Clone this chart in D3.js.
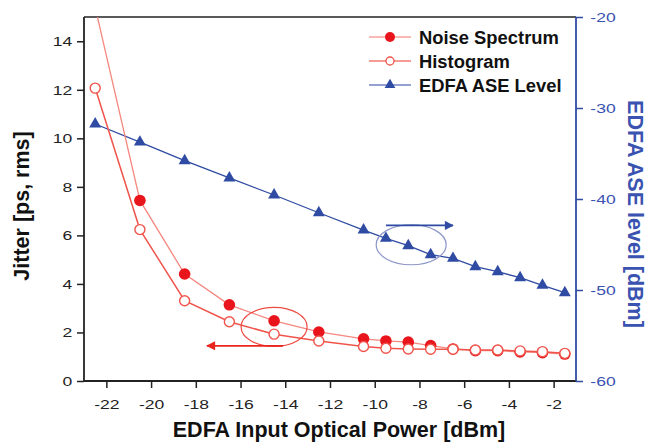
<!DOCTYPE html>
<html><head><meta charset="utf-8">
<script src="https://cdn.jsdelivr.net/npm/d3@7"></script>
<style>
html,body{margin:0;padding:0;background:#fff;}
svg{display:block;font-family:"Liberation Sans",Arial,sans-serif;}
</style></head>
<body><svg id="c" width="657" height="444"></svg>
<script>
// ---- data ----
const inputPower = [-22.5,-20.5,-18.5,-16.5,-14.5,-12.5,-10.5,-9.5,-8.5,-7.5,-6.5,-5.5,-4.5,-3.5,-2.5,-1.5];
const noiseSpectrum = [15.4,7.44,4.41,3.14,2.48,2.02,1.74,1.65,1.60,1.46,1.32,1.25,1.25,1.20,1.17,1.11];
const histogram = [12.07,6.24,3.31,2.44,1.93,1.65,1.42,1.35,1.32,1.31,1.31,1.28,1.28,1.24,1.21,1.14];
const aseLevel = [-31.76,-33.74,-35.79,-37.69,-39.56,-41.51,-43.41,-44.32,-45.13,-46.12,-46.52,-47.44,-47.99,-48.65,-49.48,-50.30];
const xTicks = [-22,-20,-18,-16,-14,-12,-10,-8,-6,-4,-2];
const yLeftTicks = [0,2,4,6,8,10,12,14];
const yRightTicks = [-20,-30,-40,-50,-60];
const legendLabels = ["Noise Spectrum","Histogram","EDFA ASE Level"];

const RED = "#e8161c", RED_LINE = "#f0544b", PINK_LINE = "#f5877f", BLUE = "#2f4ba3", BLUE_TXT = "#3a52b0";
const svg = d3.select("#c");
const L = 84, R = 576, T = 17, B = 381;
const x = d3.scaleLinear().domain([-23,-1]).range([L,R]);
const y = d3.scaleLinear().domain([0,15]).range([B,T]);
const y2 = d3.scaleLinear().domain([-60,-20]).range([B,T]);

const SX = 1.3;
svg.append("clipPath").attr("id","clip").append("rect").attr("x",L).attr("y",T).attr("width",R-L).attr("height",B-T);

// top border
svg.append("line").attr("x1",L).attr("x2",R).attr("y1",T).attr("y2",T).attr("stroke","#222").attr("stroke-width",1.6);

// bottom axis
const gx = svg.append("g").attr("transform",`translate(0,${B})`);
gx.call(d3.axisBottom(x).tickValues(d3.range(-23,0,2)).tickSize(4).tickFormat(""));
gx.call(d3.axisBottom(x).tickValues(xTicks).tickSize(7).tickSizeOuter(0).tickFormat(d=>String(d)));
gx.selectAll(".domain").attr("stroke","#222").attr("stroke-width",1.8).attr("d",`M${L},0H${R}`);
gx.selectAll("line").attr("stroke","#222").attr("stroke-width",1.5);
gx.selectAll("text").attr("font-size",13.5).attr("fill","#222").attr("y",18).attr("dy","0.71em")
  .attr("transform",`scale(${SX},1)`).attr("font-family","Liberation Sans, Arial");

// left axis
const gy = svg.append("g").attr("transform",`translate(${L},0)`);
gy.call(d3.axisLeft(y).tickValues(d3.range(1,15,2)).tickSize(4).tickFormat(""));
gy.call(d3.axisLeft(y).tickValues(yLeftTicks).tickSize(7).tickSizeOuter(0).tickFormat(d=>String(d)));
gy.selectAll(".domain").attr("stroke","#222").attr("stroke-width",1.8).attr("d",`M0,${B}V${T}`);
gy.selectAll("line").attr("stroke","#222").attr("stroke-width",1.5);
gy.selectAll("text").attr("font-size",13.5).attr("fill","#222").attr("x",-9)
  .attr("transform",`scale(${SX},1)`).attr("font-family","Liberation Sans, Arial");

// right axis
const gr = svg.append("g").attr("transform",`translate(${R},0)`);
gr.call(d3.axisRight(y2).tickValues(d3.range(-55,-20,10)).tickSize(4).tickFormat(""));
gr.call(d3.axisRight(y2).tickValues(yRightTicks).tickSize(7).tickSizeOuter(0).tickFormat(d=>String(d)));
gr.selectAll(".domain").attr("stroke",BLUE).attr("stroke-width",1.8).attr("d",`M0,${B}V${T}`);
gr.selectAll("line").attr("stroke",BLUE).attr("stroke-width",1.5);
gr.selectAll("text").attr("font-size",13.5).attr("fill",BLUE_TXT).attr("x",11)
  .attr("transform",`scale(${SX},1)`).attr("font-family","Liberation Sans, Arial");

// axis titles
svg.append("text").attr("transform",`translate(29,206) rotate(-90)`).attr("text-anchor","middle")
  .attr("font-size",21.5).attr("font-weight","bold").attr("fill","#111").text("Jitter [ps, rms]");
svg.append("text").attr("transform",`translate(628,214) rotate(90)`).attr("text-anchor","middle")
  .attr("font-size",21.5).attr("font-weight","bold").attr("fill",BLUE_TXT).text("EDFA ASE level [dBm]");
svg.append("text").attr("x",339).attr("y",437).attr("text-anchor","middle")
  .attr("font-size",21.5).attr("font-weight","bold").attr("fill","#111").text("EDFA Input Optical Power [dBm]");

const plot = svg.append("g").attr("clip-path","url(#clip)");
const lineL = (vals)=>d3.line().x((d,i)=>x(inputPower[i])).y(d=>y(d))(vals);
const lineR = d3.line().x((d,i)=>x(inputPower[i])).y(d=>y2(d));

// ASE
plot.append("path").attr("d",lineR(aseLevel)).attr("fill","none").attr("stroke",BLUE).attr("stroke-width",1.3);
plot.selectAll(".tri").data(aseLevel).join("path")
  .attr("transform",(d,i)=>`translate(${x(inputPower[i])},${y2(d)})`)
  .attr("d",d3.symbol(d3.symbolTriangle,62)()).attr("fill",BLUE);

// Noise spectrum
plot.append("path").attr("d",lineL(noiseSpectrum)).attr("fill","none").attr("stroke",PINK_LINE).attr("stroke-width",1.3);
plot.selectAll(".ns").data(noiseSpectrum).join("circle")
  .attr("cx",(d,i)=>x(inputPower[i])).attr("cy",d=>y(d)).attr("r",5.8).attr("fill",RED);

// Histogram
plot.append("path").attr("d",lineL(histogram)).attr("fill","none").attr("stroke",RED_LINE).attr("stroke-width",1.5);
plot.selectAll(".hg").data(histogram).join("circle")
  .attr("cx",(d,i)=>x(inputPower[i])).attr("cy",d=>y(d)).attr("r",5).attr("fill","#fff")
  .attr("stroke",RED_LINE).attr("stroke-width",1.4);

// annotations
const defs = svg.append("defs");
function marker(id,color){
  defs.append("marker").attr("id",id).attr("viewBox","0 0 10 10").attr("refX",9).attr("refY",5)
    .attr("markerUnits","userSpaceOnUse").attr("orient","auto").attr("markerWidth",13).attr("markerHeight",9)
    .append("path").attr("d","M0,0L10,5L0,10Z").attr("fill",color);
}
marker("ar","#e8261e"); marker("ab",BLUE);
svg.append("ellipse").attr("cx",x(-14.5)).attr("cy",y(2.23)).attr("rx",33).attr("ry",19.5)
  .attr("fill","none").attr("stroke","#ee4a42").attr("stroke-width",1.2);
svg.append("line").attr("x1",x(-14.1)).attr("x2",x(-17.5)).attr("y1",y(1.45)).attr("y2",y(1.45))
  .attr("stroke","#e8261e").attr("stroke-width",1.8).attr("marker-end","url(#ar)");
svg.append("ellipse").attr("cx",x(-8.37)).attr("cy",y2(-45.03)).attr("rx",35).attr("ry",20)
  .attr("fill","none").attr("stroke","#8d96c8").attr("stroke-width",1.2);
svg.append("line").attr("x1",x(-9.5)).attr("x2",x(-6.5)).attr("y1",y2(-42.9)).attr("y2",y2(-42.9))
  .attr("stroke",BLUE).attr("stroke-width",1.8).attr("marker-end","url(#ab)");

// legend
const lg = svg.append("g");
const ly = [37,61,85];
const lcol = ["#f7a29b","#f47a72","#7083c4"];
legendLabels.forEach((lab,i)=>{
  const g = lg.append("g").attr("transform",`translate(0,${ly[i]})`);
  g.append("line").attr("x1",369).attr("x2",411).attr("stroke",lcol[i]).attr("stroke-width",1.3);
  if(i===0) g.append("circle").attr("cx",390).attr("r",5).attr("fill",RED);
  else if(i===1) g.append("circle").attr("cx",390).attr("r",4).attr("fill","#fff").attr("stroke",RED_LINE).attr("stroke-width",1.3);
  else g.append("path").attr("transform","translate(390,0)").attr("d",d3.symbol(d3.symbolTriangle,50)()).attr("fill",BLUE);
  g.append("text").attr("x",419/1.05).attr("y",6.5).attr("transform","scale(1.05,1)").attr("font-size",17.5)
    .attr("font-weight","bold").attr("fill","#111").text(lab);
});
</script></body></html>
